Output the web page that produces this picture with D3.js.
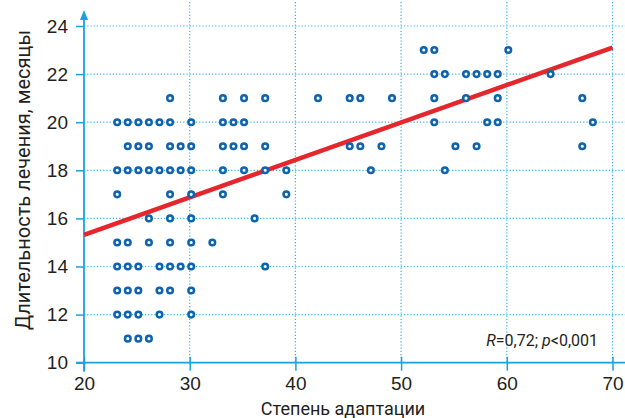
<!DOCTYPE html>
<html>
<head>
<meta charset="utf-8">
<script src="https://cdn.jsdelivr.net/npm/d3@7"></script>
<style>
  body { margin: 0; background: #fff; }
  svg { display: block; font-family: Roboto, 'Noto Sans', sans-serif; }
</style>
</head>
<body>
<svg id="chart" width="625" height="418"></svg>
<script>
// Points: adaptation degree (x) and treatment duration in months (y)
const pointX = [
  23, 23, 23, 23, 23, 23, 23,
  24, 24, 24, 24, 24, 24, 24, 24,
  25, 25, 25, 25, 25, 25, 25,
  26, 26, 26, 26, 26, 26,
  27, 27, 27, 27, 27,
  28, 28, 28, 28, 28, 28, 28, 28, 28,
  29, 29, 29,
  30, 30, 30, 30, 30, 30, 30, 30, 30,
  32,
  33, 33, 33, 33, 33,
  34, 34,
  35, 35, 35, 35,
  36,
  37, 37, 37, 37,
  39, 39,
  42, 45, 45, 46, 46, 47, 48, 49,
  52, 53, 53, 53, 53, 54, 54, 55, 56, 56, 57, 57, 58, 58, 59, 59, 59, 60,
  64, 67, 67, 68
];
const pointY = [
  20, 18, 17, 15, 14, 13, 12,
  20, 19, 18, 15, 14, 13, 12, 11,
  20, 19, 18, 14, 13, 12, 11,
  20, 19, 18, 16, 15, 11,
  20, 18, 14, 13, 12,
  21, 20, 19, 18, 17, 16, 15, 14, 13,
  19, 18, 14,
  20, 19, 18, 17, 16, 15, 14, 13, 12,
  15,
  21, 20, 19, 18, 17,
  20, 19,
  21, 20, 19, 18,
  16,
  21, 19, 18, 14,
  18, 17,
  21, 21, 19, 21, 19, 18, 19, 21,
  23, 23, 22, 21, 20, 22, 18, 19, 22, 21, 22, 19, 22, 20, 22, 21, 20, 23,
  22, 21, 19, 20
];

// regression line ends
const trendX = [20, 70];
const trendY = [15.32, 23.1];

const xTicks = [20, 30, 40, 50, 60, 70];
const yTicks = [10, 12, 14, 16, 18, 20, 22, 24];

const axisColor = '#1ba1e2';
const gridColor = '#33b5ea';
const dotColor = '#0f62ac';
const lineColor = '#e5262c';
const textColor = '#231f20';

const svg = d3.select('#chart');
const W = 625;

const x = d3.scaleLinear().domain([20, 70]).range([84, 612.5]);
const y = d3.scaleLinear().domain([10, 24]).range([362.7, 26]);

// grid
const grid = svg.append('g').attr('class', 'grid');
grid.selectAll('line.h')
  .data(yTicks.filter(d => d > 10))
  .enter().append('line')
  .attr('x1', x(20)).attr('x2', W)
  .attr('y1', d => y(d)).attr('y2', d => y(d))
  .attr('stroke', gridColor)
  .attr('stroke-width', 1.2)
  .attr('stroke-dasharray', '1.2,2');

grid.selectAll('line.v')
  .data(xTicks.filter(d => d > 20))
  .enter().append('line')
  .attr('x1', d => x(d)).attr('x2', d => x(d))
  .attr('y1', 2).attr('y2', y(10))
  .attr('stroke', gridColor)
  .attr('stroke-width', 1.2)
  .attr('stroke-dasharray', '1.2,2');

// axes
const xAxis = svg.append('g')
  .attr('transform', `translate(0,${y(10)})`)
  .call(d3.axisBottom(x).tickValues(xTicks).tickSize(8).tickPadding(6));
xAxis.select('.domain').remove();
xAxis.append('line')
  .attr('x1', x(20) - 8).attr('x2', W)
  .attr('stroke', axisColor).attr('stroke-width', 1.8);
xAxis.selectAll('.tick line').attr('stroke', axisColor).attr('stroke-width', 1.5)
  .attr('y1', -6);
xAxis.selectAll('.tick text')
  .attr('fill', textColor)
  .style('font-size', '19px');

const yAxis = svg.append('g')
  .attr('transform', `translate(${x(20)},0)`)
  .call(d3.axisLeft(y).tickValues(yTicks).tickSize(8).tickPadding(8));
yAxis.select('.domain').remove();
yAxis.append('line')
  .attr('y1', 16).attr('y2', y(10) + 9)
  .attr('stroke', axisColor).attr('stroke-width', 1.8);
yAxis.append('path')
  .attr('d', 'M0,10 L-4,20 L4,20 Z')
  .attr('fill', axisColor);
yAxis.selectAll('.tick line').attr('stroke', axisColor).attr('stroke-width', 1.5);
yAxis.selectAll('.tick text')
  .attr('fill', textColor)
  .style('font-size', '19px');

// trend line
svg.append('line')
  .attr('x1', x(trendX[0])).attr('y1', y(trendY[0]))
  .attr('x2', x(trendX[1])).attr('y2', y(trendY[1]))
  .attr('stroke', lineColor)
  .attr('stroke-width', 4.5);

// points
svg.append('g')
  .selectAll('circle')
  .data(pointX.map((v, i) => [v, pointY[i]]))
  .enter().append('circle')
  .attr('cx', d => x(d[0]) + 1.5)
  .attr('cy', d => y(d[1]))
  .attr('r', 2.8)
  .attr('fill', '#fff')
  .attr('stroke', dotColor)
  .attr('stroke-width', 2.5);

// titles
svg.append('text')
  .attr('x', 343).attr('y', 415)
  .attr('text-anchor', 'middle')
  .attr('fill', textColor)
  .style('font-size', '18px')
  .text('Степень адаптации');

svg.append('text')
  .attr('transform', 'translate(30,180) rotate(-90)')
  .attr('text-anchor', 'middle')
  .attr('fill', textColor)
  .style('font-size', '20px')
  .text('Длительность лечения, месяцы');

// stats note
const note = svg.append('text')
  .attr('x', 598).attr('y', 346)
  .attr('text-anchor', 'end')
  .attr('fill', textColor)
  .style('font-size', '16px');
note.append('tspan').style('font-style', 'italic').text('R');
note.append('tspan').text('=0,72; ');
note.append('tspan').style('font-style', 'italic').text('p');
note.append('tspan').text('<0,001');
</script>
</body>
</html>
